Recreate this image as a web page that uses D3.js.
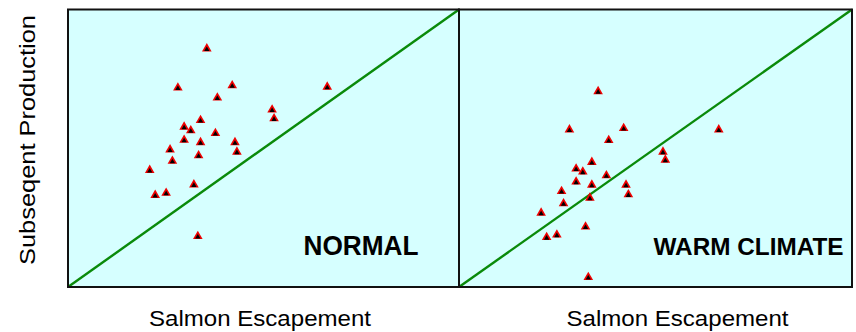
<!DOCTYPE html>
<html>
<head>
<meta charset="utf-8">
<script src="https://cdn.jsdelivr.net/npm/d3@7"></script>
<style>
  html, body { margin: 0; padding: 0; background: #ffffff; }
  svg { display: block; }
</style>
</head>
<body>
<svg id="chart" width="856" height="332"></svg>
<script>
// ---- data ----
const panelTitles = ["NORMAL", "WARM CLIMATE"];
const xAxisTitle = "Salmon Escapement";
const yAxisTitle = "Subseqent Production";

const normalEscapement = [35.5, 28.1, 42.0, 66.3, 38.2, 52.2, 52.7, 33.9, 29.7, 31.4, 37.7, 29.7, 33.9, 42.7, 43.2, 26.1, 26.7, 33.4, 20.9, 32.2, 25.1, 22.3, 33.2];
const normalProduction = [85.9, 71.8, 72.6, 72.1, 68.2, 63.9, 60.7, 60.1, 57.7, 56.4, 55.4, 53.0, 52.1, 52.1, 48.7, 49.5, 45.4, 47.4, 42.1, 36.9, 33.9, 33.1, 18.3];

const warmEscapement = [35.4, 28.1, 41.9, 66.1, 38.1, 51.9, 52.5, 33.8, 29.8, 31.5, 37.5, 29.8, 33.8, 42.5, 43.1, 26.1, 26.6, 33.3, 20.9, 32.2, 24.9, 22.3, 32.9];
const warmProduction = [70.5, 56.7, 57.2, 56.7, 52.9, 48.7, 45.8, 45.0, 42.6, 41.5, 40.2, 37.9, 36.8, 36.8, 33.3, 34.5, 30.1, 32.1, 26.7, 21.7, 18.8, 17.9, 3.5];

const replacementLine = [[0, 0], [100, 100]];
const domain = [0, 100];

// ---- layout ----
const svg = d3.select("#chart");
const plotTop = 9.5, plotBottom = 287;
const panels = [
  { x0: 68, x1: 459, title: panelTitles[0], xs: normalEscapement, ys: normalProduction,
    titleX: 303.5, titleSize: 27, titleLen: 115, xLabelX: 149 },
  { x0: 459, x1: 852, title: panelTitles[1], xs: warmEscapement, ys: warmProduction,
    titleX: 653.5, titleSize: 24.5, titleLen: 190, xLabelX: 566.5 }
];

const y = d3.scaleLinear().domain(domain).range([plotBottom, plotTop]);

panels.forEach((p) => {
  const x = d3.scaleLinear().domain(domain).range([p.x0, p.x1]);
  const g = svg.append("g");

  g.append("rect")
    .attr("x", p.x0).attr("y", plotTop)
    .attr("width", p.x1 - p.x0).attr("height", plotBottom - plotTop)
    .attr("fill", "#d6ffff");

  const line = d3.line().x(d => x(d[0])).y(d => y(d[1]));
  g.append("path")
    .datum(replacementLine)
    .attr("d", line)
    .attr("fill", "none")
    .attr("stroke", "#0a8a0a")
    .attr("stroke-width", 2.4);

  const pts = p.xs.map((v, i) => [v, p.ys[i]]);
  const outer = d3.symbol().type(d3.symbolTriangle).size(40);
  const inner = d3.symbol().type(d3.symbolTriangle).size(12);
  const pg = g.append("g");
  pg.selectAll("path.o").data(pts).join("path")
    .attr("class", "o")
    .attr("transform", d => `translate(${x(d[0])},${y(d[1])})`)
    .attr("d", outer)
    .attr("fill", "#f00000");
  pg.selectAll("path.i").data(pts).join("path")
    .attr("class", "i")
    .attr("transform", d => `translate(${x(d[0])},${y(d[1]) + 0.8})`)
    .attr("d", inner)
    .attr("fill", "#000000");

  g.append("text")
    .attr("x", p.titleX).attr("y", 254.5)
    .attr("font-family", "Liberation Sans, Arial, sans-serif")
    .attr("font-weight", "bold")
    .attr("font-size", p.titleSize)
    .attr("textLength", p.titleLen)
    .attr("lengthAdjust", "spacingAndGlyphs")
    .attr("fill", "#000")
    .text(p.title);

  g.append("text")
    .attr("x", p.xLabelX).attr("y", 326)
    .attr("font-family", "Liberation Sans, Arial, sans-serif")
    .attr("font-size", 22.5)
    .attr("textLength", 222)
    .attr("lengthAdjust", "spacingAndGlyphs")
    .attr("fill", "#000")
    .text(xAxisTitle);

  g.append("rect")
    .attr("x", p.x0).attr("y", plotTop)
    .attr("width", p.x1 - p.x0).attr("height", plotBottom - plotTop)
    .attr("fill", "none")
    .attr("stroke", "#111")
    .attr("stroke-width", 2);
});

svg.append("text")
  .attr("transform", "translate(35,265) rotate(-90)")
  .attr("font-family", "Liberation Sans, Arial, sans-serif")
  .attr("font-size", 22.5)
  .attr("textLength", 250)
  .attr("lengthAdjust", "spacingAndGlyphs")
  .attr("fill", "#000")
  .text(yAxisTitle);
</script>
</body>
</html>
